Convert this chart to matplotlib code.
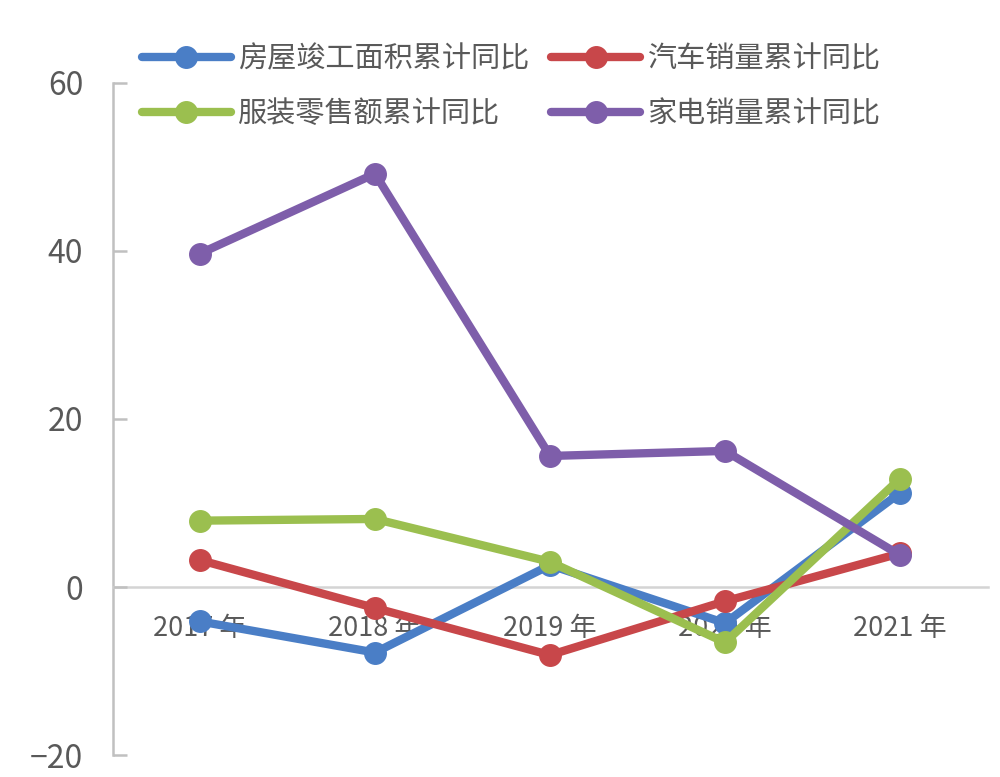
import matplotlib
matplotlib.use("Agg")
import matplotlib.pyplot as plt

plt.rcParams['font.family'] = ['Noto Sans CJK SC', 'DejaVu Sans']

categories = ["2017 年", "2018 年", "2019 年", "2020 年", "2021 年"]
series_names = ["房屋竣工面积累计同比", "汽车销量累计同比", "服装零售额累计同比", "家电销量累计同比"]
housing = [-4.1, -7.8, 2.6, -4.3, 11.2]
autos = [3.2, -2.5, -8.1, -1.7, 4.0]
apparel = [7.9, 8.1, 3.0, -6.6, 12.9]
appliances = [39.7, 49.2, 15.6, 16.2, 3.8]
yticks = [-20, 0, 20, 40, 60]

colors = ["#4A7EC6", "#C8474A", "#9BBF4F", "#7E5EAA"]
text_color = "#595959"
axis_color = "#C0C0C0"

fig = plt.figure(figsize=(10, 7.77), dpi=100)
ax = fig.add_axes([0.1125, 0.0283, 0.875, 0.8649])

x = list(range(len(categories)))
handles = []
for vals, col, name in zip([housing, autos, apparel, appliances], colors, series_names):
    ln, = ax.plot(x, vals, color=col, lw=6, marker='o', markersize=15.5,
                  solid_capstyle='round', solid_joinstyle='round', label=name, zorder=3)
    handles.append(ln)

ax.set_xlim(-0.5, 4.5)
ax.set_ylim(-20, 60)
ax.set_yticks(yticks)
ax.set_xticks(x)
ax.set_xticklabels(categories)

for s in ['top', 'right']:
    ax.spines[s].set_visible(False)
ax.spines['left'].set_color(axis_color)
ax.spines['left'].set_linewidth(1.8)
ax.spines['bottom'].set_position(('data', 0))
ax.spines['bottom'].set_color("#D4D4D4")
ax.spines['bottom'].set_linewidth(1.8)
ax.spines['bottom'].set_zorder(1)
ax.spines['left'].set_zorder(1)

ax.tick_params(axis='y', direction='in', length=10, width=1.8, color=axis_color,
               labelsize=23, labelcolor=text_color, pad=21)
ax.tick_params(axis='x', length=0, labelsize=19.5, labelcolor=text_color, pad=20)

order = [0, 2, 1, 3]
leg = fig.legend([handles[i] for i in order], [series_names[i] for i in order],
                 ncol=2, loc='center left', bbox_to_anchor=(0.142, 1 - 87 / 777),
                 frameon=False, fontsize=21, handlelength=3.05, handletextpad=0.25,
                 columnspacing=0.75, labelspacing=0.85, borderpad=0, borderaxespad=0)
for t in leg.get_texts():
    t.set_color(text_color)

fig.savefig("out.png", dpi=100, facecolor='white')
